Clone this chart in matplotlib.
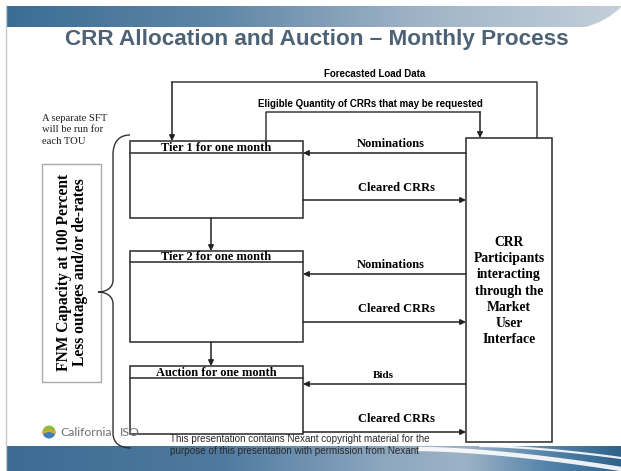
import numpy as np
import matplotlib.pyplot as plt
from matplotlib.path import Path
from matplotlib.patches import PathPatch, Rectangle, Wedge
from matplotlib.colors import LinearSegmentedColormap

# Text content of the diagram
title = 'CRR Allocation and Auction \u2013 Monthly Process'
stage_labels = ['Tier 1 for one month', 'Tier 2 for one month', 'Auction for one month']
flow_left = ['Nominations', 'Nominations', 'Bids']
flow_right = ['Cleared CRRs', 'Cleared CRRs', 'Cleared CRRs']
top_loop_labels = ['Forecasted Load Data', 'Eligible Quantity of CRRs that may be requested']
participants_text = 'CRR\nParticipants\ninteracting\nthrough the\nMarket\nUser\nInterface'
sft_note = 'A separate SFT\nwill be run for\neach TOU'
fnm_text = 'FNM Capacity at 100 Percent\nLess outages and/or de-rates'
footer = 'This presentation contains Nexant copyright material for the\npurpose of this presentation with permission from Nexant'

W, H = 621, 471
fig = plt.figure(figsize=(W / 100, H / 100), dpi=100)
ax = fig.add_axes([0, 0, 1, 1])
ax.set_xlim(0, W)
ax.set_ylim(H, 0)
ax.axis('off')

SERIF = 'Liberation Serif'
SANS = 'Liberation Sans'
LC = '#3a3a3a'

# top banner with gradient
grad = np.linspace(0, 1, 256).reshape(1, -1)
top_cmap = LinearSegmentedColormap.from_list('top', ['#3b6d94', '#5d85a6', '#9fb3c6', '#c3cfda'])
im = ax.imshow(grad, extent=[6, W, 27, 6], aspect='auto', cmap=top_cmap, zorder=1)
clip = Path([(6, 6), (W, 6), (W, 7), (606, 22), (585, 27), (560, 27), (6, 27), (6, 6)],
            [Path.MOVETO, Path.LINETO, Path.LINETO, Path.CURVE3, Path.CURVE3,
             Path.LINETO, Path.LINETO, Path.CLOSEPOLY])
im.set_clip_path(PathPatch(clip, transform=ax.transData))

# bottom banner
bot_cmap = LinearSegmentedColormap.from_list(
    'bot', [(0, '#3d6b91'), (0.35, '#4f7aa0'), (0.62, '#8ea8c0'), (0.75, '#9db2c6'),
            (0.88, '#5584aa'), (1, '#2f628c')])
ax.imshow(grad, extent=[6, W, H, 446], aspect='auto', cmap=bot_cmap, zorder=1)
# white swooshes on the right
for (x0, y0, y1, lw) in [(420, 449, 469, 3.2), (480, 446, 458, 1.6)]:
    xs = np.linspace(x0, W, 80)
    t = (xs - x0) / (W - x0)
    ys = y0 + (y1 - y0) * t ** 1.6
    ax.plot(xs, ys, color='white', lw=lw, alpha=0.9, zorder=2, solid_capstyle='round')
ax.plot([6, 6], [6, H], color='#c8c8c8', lw=1, zorder=2)

ax.text(317, 40, title, fontsize=16.2, fontweight='bold', family=SANS, color='#4d6275',
        ha='center', va='center', zorder=5)

# stage boxes on the left
boxes = [(141, 218, 153), (251, 342, 262), (366, 434, 378)]
bx0, bx1 = 130, 303
for (y0, y1, yh), lab in zip(boxes, stage_labels):
    ax.add_patch(Rectangle((bx0, y0), bx1 - bx0, y1 - y0, fill=False, ec=LC, lw=1.2, zorder=4))
    ax.plot([bx0, bx1], [yh, yh], color=LC, lw=1.2, zorder=4)
    ax.text((bx0 + bx1) / 2, yh - 1.6, lab, family=SERIF, fontweight='bold', fontsize=8.9,
            ha='center', va='baseline', zorder=5)

arr = dict(arrowstyle='-|>', color='#222222', lw=1.1, mutation_scale=8, shrinkA=0, shrinkB=0)
for (a, b) in [(218, 251), (342, 366)]:
    ax.annotate('', xy=(211, b), xytext=(211, a), arrowprops=arr, zorder=4)

# participants box
px0, px1, py0, py1 = 466, 552, 138, 442
ax.add_patch(Rectangle((px0, py0), px1 - px0, py1 - py0, fc='white', ec=LC, lw=1.2, zorder=4))
ax.text(509, 291, participants_text, family=SERIF, fontweight='bold', fontsize=9.8,
        ha='center', va='center', linespacing=1.32, zorder=5)

# flows between the stages and the participants
left_y = [153, 274, 384]
right_y = [200, 322, 432]
left_lab_y = [144, 265, 375]
right_lab_y = [188, 309, 419]
for i in range(3):
    ax.annotate('', xy=(bx1, left_y[i]), xytext=(px0, left_y[i]), arrowprops=arr, zorder=4)
    ax.annotate('', xy=(px0, right_y[i]), xytext=(bx1, right_y[i]), arrowprops=arr, zorder=4)
    lx = 383 if flow_left[i] == 'Bids' else 391
    ax.text(lx, left_lab_y[i], flow_left[i], family=SERIF, fontweight='bold',
            fontsize=9 if flow_left[i] != 'Bids' else 8, ha='center', va='center', zorder=5)
    ax.text(396, right_lab_y[i], flow_right[i], family=SERIF, fontweight='bold', fontsize=9,
            ha='center', va='center', zorder=5)

# loops over the top
ax.plot([537, 537, 172], [py0, 82, 82], color=LC, lw=1.1, zorder=4)
ax.annotate('', xy=(172, 141), xytext=(172, 82), arrowprops=arr, zorder=4)
ax.text(375, 74, top_loop_labels[0], family=SANS, fontweight='bold', fontsize=7,
        ha='center', va='center', zorder=5)
ax.plot([266, 266, 480], [141, 112, 112], color=LC, lw=1.1, zorder=4)
ax.annotate('', xy=(480, py0), xytext=(480, 112), arrowprops=arr, zorder=4)
ax.text(370, 104, top_loop_labels[1], family=SANS, fontweight='bold', fontsize=7,
        ha='center', va='center', zorder=5)

# note and FNM box
ax.text(42, 130, sft_note, family=SERIF, fontsize=7.7, ha='left', va='center',
        linespacing=1.32, color='#222222', zorder=5)
ax.add_patch(Rectangle((42, 164), 59, 218, fill=False, ec='#aaaaaa', lw=1.0, zorder=4))
ax.text(72, 272, fnm_text, family=SERIF, fontweight='bold', fontsize=11.2, rotation=90,
        ha='center', va='center', linespacing=1.0, zorder=5)

# curly brace
verts = [(130, 135), (119, 135), (113, 142), (113, 155),
         (113, 280),
         (113, 288), (106, 292), (98, 292),
         (106, 292), (113, 296), (113, 304),
         (113, 433),
         (113, 443), (120, 448), (131, 448)]
codes = [Path.MOVETO, Path.CURVE4, Path.CURVE4, Path.CURVE4,
         Path.LINETO,
         Path.CURVE4, Path.CURVE4, Path.CURVE4,
         Path.CURVE4, Path.CURVE4, Path.CURVE4,
         Path.LINETO,
         Path.CURVE4, Path.CURVE4, Path.CURVE4]
ax.add_patch(PathPatch(Path(verts, codes), fill=False, ec='#333333', lw=1.0, zorder=4))

# California ISO logo
ax.add_patch(Wedge((49, 432), 6.5, 0, 180, fc='#3f7fb8', ec='none', zorder=5))
ax.add_patch(Wedge((49, 432), 6.5, 180, 360, fc='#8dbb3c', ec='none', zorder=5))
ax.plot([43.5, 49, 54.5], [432.5, 430.5, 432.5], color='#e8a030', lw=1.6, zorder=6)
ax.text(60, 432, 'California', family='Lato', fontsize=8.8, color='#707070', ha='left', va='center', zorder=5)
ax.text(120, 432, 'ISO', family='Lato', fontsize=8.8, color='#707070', ha='left', va='center', zorder=5)

ax.text(170, 445, footer, family=SANS, fontsize=7.1, color='#2a2a2a', ha='left', va='center',
        linespacing=1.15, zorder=5)

fig.savefig('out.png', dpi=100)
